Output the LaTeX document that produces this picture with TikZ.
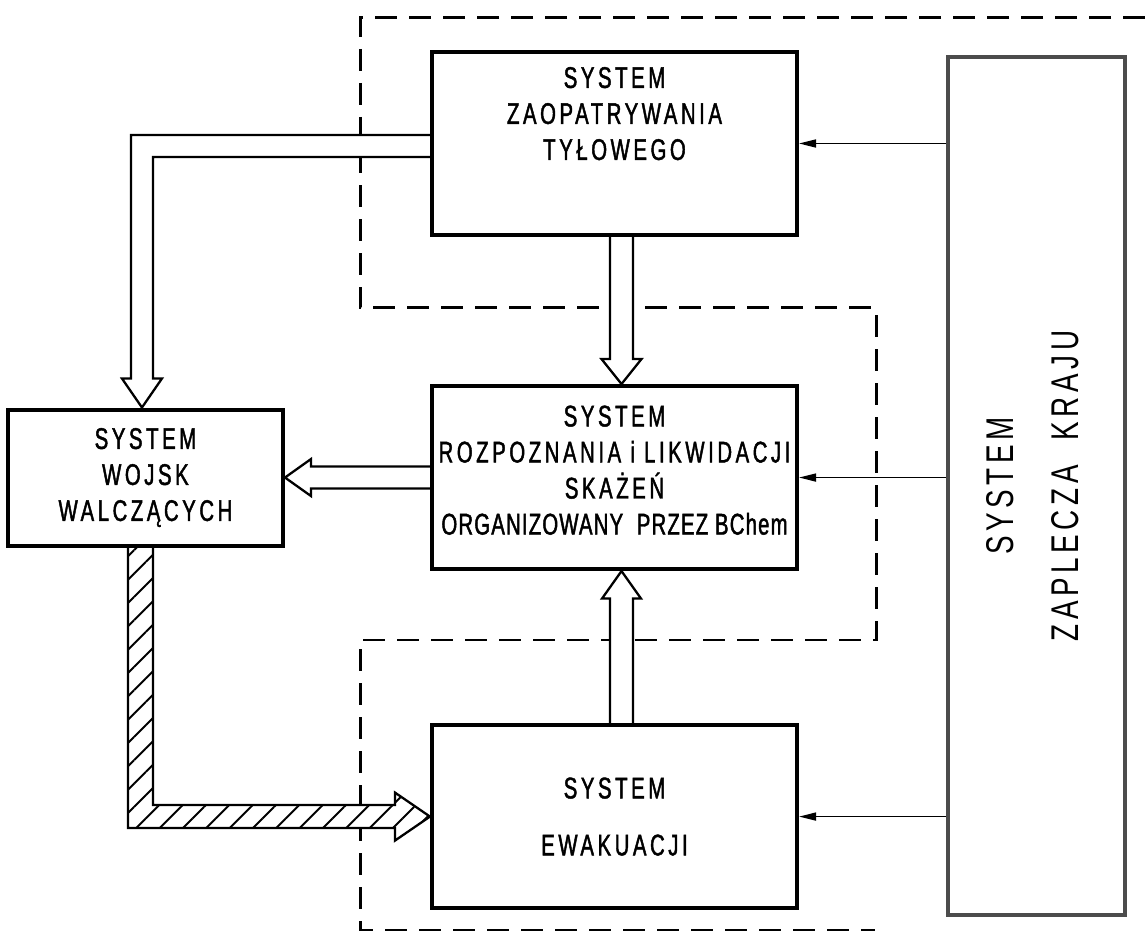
\documentclass[tikz,border=0pt]{standalone}
\usepackage{graphicx}
\usepackage{fontspec}
\usepackage{tikz}
\usetikzlibrary{arrows.meta,positioning,calc,backgrounds,patterns.meta}
\newfontfamily\stencil[FakeStretch=0.68,LetterSpace=12,FakeBold=1.5]{Liberation Sans}
\newfontfamily\stenciltight[FakeStretch=0.68,LetterSpace=4,FakeBold=1.5]{Liberation Sans}
\newfontfamily\stencilthin[FakeStretch=0.72,LetterSpace=12]{Liberation Sans}

\begin{document}
\begin{tikzpicture}[font=\stencil\fontsize{17}{20.5}\selectfont,node distance=2.9cm,
  box/.style={draw,line width=2.3pt,minimum width=7.3cm,minimum height=3.66cm,align=center},
  hollow/.style={draw,line width=1.3pt,fill=white},
  hatched/.style={draw,line width=1.3pt,preaction={fill=white},
    pattern={Lines[angle=45,distance=0.33cm,line width=1.1pt]}},
  feed/.style={line width=0.9pt,-{Triangle[length=0.34cm,width=0.16cm]}},
  zone/.style={line width=1.7pt,dash pattern=on 0.44cm off 0.24cm}]
\useasboundingbox (0,0) rectangle (22.9,18.82);

% bloki systemu
\node[box,text depth=1.2cm] (zaop) at (12.29,15.95) {SYSTEM\\ZAOPATRYWANIA\\TYŁOWEGO};
\node[box,text depth=0.3cm,below=2.94cm of zaop] (rozp)
  {SYSTEM\\ROZPOZNANIA i LIKWIDACJI\\SKAŻEŃ\\{\stenciltight ORGANIZOWANY\ \ PRZEZ BChem}};
\node[box,below=3.04cm of rozp] (ewak) {SYSTEM\\[0.42cm]EWAKUACJI};
\node[box,minimum width=5.5cm,minimum height=2.72cm,left=of rozp] (wojsk)
  {SYSTEM\\WOJSK\\WALCZĄCYCH};
\node[box,draw=black!70,minimum width=3.54cm,minimum height=17.16cm] (zapl) at (20.73,9.10)
  {\rotatebox{90}{\stencilthin\fontsize{22}{26}\selectfont\begin{tabular}{c}SYSTEM\\[11pt]ZAPLECZA\ \ KRAJU\end{tabular}}};

% zasilanie z zaplecza kraju
\draw[feed] (zapl.west |- zaop.east) -- (zaop.east);
\draw[feed] (zapl.west |- rozp.east) -- (rozp.east);
\draw[feed] (zapl.west |- ewak.east) -- (ewak.east);

\begin{scope}[on background layer]
% granice obszarow
\draw[zone] (22.9,18.46) -- (7.2,18.46) -- (7.2,12.66) -- (17.52,12.66) -- (17.52,6.02)
  -- (7.2,6.02) -- (7.2,0.22) -- (17.5,0.22);
% strzalki przeplywu
\draw[hollow] ($(zaop.south)+(-0.09,0)$) -- ($(rozp.north)+(-0.09,0.5)$) -- ($(rozp.north)+(-0.26,0.5)$)
  -- ($(rozp.north)+(0.14,0)$) -- ($(rozp.north)+(0.54,0.5)$) -- ($(rozp.north)+(0.37,0.5)$)
  -- ($(zaop.south)+(0.37,0)$);
\draw[hollow] ($(ewak.north)+(-0.09,0)$) -- ($(rozp.south)+(-0.09,-0.55)$) -- ($(rozp.south)+(-0.25,-0.55)$)
  -- ($(rozp.south)+(0.14,0)$) -- ($(rozp.south)+(0.53,-0.55)$) -- ($(rozp.south)+(0.37,-0.55)$)
  -- ($(ewak.north)+(0.37,0)$);
\coordinate (wtip) at (wojsk.east |- rozp.west);
\draw[hollow] ($(rozp.west)+(0,0.22)$) -- ($(wtip)+(0.52,0.22)$) -- ($(wtip)+(0.52,0.37)$) -- (wtip)
  -- ($(wtip)+(0.52,-0.37)$) -- ($(wtip)+(0.52,-0.22)$) -- ($(rozp.west)+(0,-0.22)$);
\coordinate (lcorner) at (wojsk.north |- zaop.west);
\draw[hollow] ($(zaop.west)+(0,0.17)$) -- ($(lcorner)+(-0.29,0.17)$) -- ($(wojsk.north)+(-0.29,0.58)$)
  -- ($(wojsk.north)+(-0.47,0.58)$) -- ($(wojsk.north)+(-0.07,0)$) -- ($(wojsk.north)+(0.33,0.58)$)
  -- ($(wojsk.north)+(0.15,0.58)$) -- ($(lcorner)+(0.15,-0.27)$) -- ($(zaop.west)+(0,-0.27)$);
\coordinate (hcorner) at (wojsk.south |- ewak.west);
\draw[hatched] ($(wojsk.south)+(-0.35,0)$) -- ($(hcorner)+(-0.35,-0.23)$) -- ($(ewak.west)+(-0.7,-0.23)$)
  -- ($(ewak.west)+(-0.7,-0.48)$) -- (ewak.west) -- ($(ewak.west)+(-0.7,0.48)$)
  -- ($(ewak.west)+(-0.7,0.23)$) -- ($(hcorner)+(0.15,0.23)$) -- ($(wojsk.south)+(0.15,0)$);
\end{scope}
\end{tikzpicture}
\end{document}
